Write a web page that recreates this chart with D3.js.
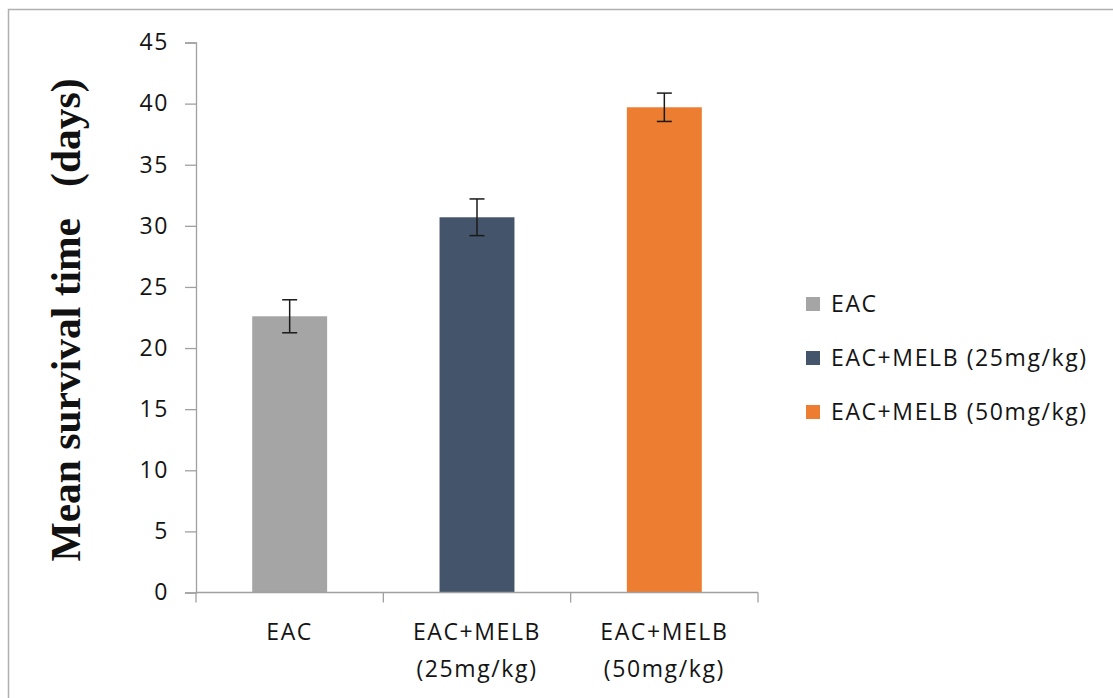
<!DOCTYPE html>
<html>
<head>
<meta charset="utf-8">
<script src="https://cdn.jsdelivr.net/npm/d3@7"></script>
<style>
  html, body { margin: 0; padding: 0; background: #fff; }
  svg { display: block; }
</style>
</head>
<body>
<svg id="chart" width="1113" height="698"></svg>
<script>
// ---- data ----
const categories = ["EAC", "EAC+MELB (25mg/kg)", "EAC+MELB (50mg/kg)"];
const categoryLines = [["EAC"], ["EAC+MELB", "(25mg/kg)"], ["EAC+MELB", "(50mg/kg)"]];
const means = [22.6, 30.7, 39.7];
const errors = [1.35, 1.5, 1.16];
const colors = ["#A5A5A5", "#44546A", "#ED7D31"];
const yTicks = [0, 5, 10, 15, 20, 25, 30, 35, 40, 45];
const yTitle = "Mean survival time   (days)";

const svg = d3.select("#chart");
const font = "'Open Sans', sans-serif";
const fs = 23, ls = "1.6px", txtColor = "#141414";

// outer border
svg.append("rect")
  .attr("x", 8.5).attr("y", 9.5).attr("width", 1120).attr("height", 700)
  .attr("fill", "none").attr("stroke", "#b0b0b0").attr("stroke-width", 1.5);

const y = d3.scaleLinear().domain([0, 45]).range([592.5, 42.5]);
const x = d3.scaleBand().domain(categories).range([196, 758]).padding(0);

const axisColor = "#a0a0a0";

// y axis
const yAxis = svg.append("g").attr("transform", "translate(196,0)")
  .call(d3.axisLeft(y).tickValues(yTicks).tickSize(11).tickPadding(16).tickFormat(d3.format("d")));
yAxis.select(".domain").attr("stroke", axisColor).attr("stroke-width", 1.3);
yAxis.selectAll(".tick line").attr("stroke", axisColor).attr("stroke-width", 1.3);
yAxis.selectAll(".tick text").attr("font-family", font).attr("font-size", fs)
  .attr("letter-spacing", ls).attr("fill", txtColor);

// bars
const bw = x.bandwidth() * 0.4;
svg.append("g").selectAll("rect").data(categories).join("rect")
  .attr("x", d => x(d) + (x.bandwidth() - bw) / 2)
  .attr("width", bw)
  .attr("y", (d, i) => y(means[i]))
  .attr("height", (d, i) => y(0) - y(means[i]))
  .attr("fill", (d, i) => colors[i]);

// x axis (ticks at category boundaries)
const xg = svg.append("g");
xg.append("line").attr("x1", 196).attr("x2", 758).attr("y1", y(0)).attr("y2", y(0))
  .attr("stroke", axisColor).attr("stroke-width", 1.3);
const bounds = categories.map(c => x(c)).concat([x.range()[1]]);
xg.selectAll("line.tk").data(bounds).join("line").attr("class", "tk")
  .attr("x1", d => d).attr("x2", d => d).attr("y1", y(0)).attr("y2", y(0) + 10)
  .attr("stroke", axisColor).attr("stroke-width", 1.3);

// category labels
categories.forEach((c, i) => {
  const cx = x(c) + x.bandwidth() / 2;
  const t = svg.append("text").attr("x", cx).attr("y", 640)
    .attr("text-anchor", "middle").attr("font-family", font).attr("font-size", fs)
    .attr("letter-spacing", ls).attr("fill", txtColor);
  categoryLines[i].forEach((ln, j) => {
    t.append("tspan").attr("x", cx).attr("dy", j === 0 ? 0 : 37).text(ln);
  });
});

// error bars
const eg = svg.append("g").attr("stroke", "#1a1a1a").attr("stroke-width", 1.5);
categories.forEach((c, i) => {
  const cx = x(c) + x.bandwidth() / 2;
  const top = y(means[i] + errors[i]), bot = y(means[i] - errors[i]);
  eg.append("line").attr("x1", cx).attr("x2", cx).attr("y1", top).attr("y2", bot);
  eg.append("line").attr("x1", cx - 7.5).attr("x2", cx + 7.5).attr("y1", top).attr("y2", top);
  eg.append("line").attr("x1", cx - 7.5).attr("x2", cx + 7.5).attr("y1", bot).attr("y2", bot);
});

// y title
svg.append("text")
  .attr("transform", "translate(80,320) rotate(-90)")
  .attr("text-anchor", "middle")
  .attr("font-family", "'Liberation Serif', 'Times New Roman', serif")
  .attr("font-weight", "bold").attr("font-size", 41.5).attr("fill", "#111")
  .style("white-space", "pre")
  .text(yTitle);

// legend
const lg = svg.append("g");
categories.forEach((c, i) => {
  const cy = 304 + i * 54;
  lg.append("rect").attr("x", 806).attr("y", cy - 7).attr("width", 14).attr("height", 14).attr("fill", colors[i]);
  lg.append("text").attr("x", 831).attr("y", cy + 8).attr("font-family", font).attr("font-size", fs)
    .attr("letter-spacing", ls).attr("fill", txtColor).text(c);
});
</script>
</body>
</html>
